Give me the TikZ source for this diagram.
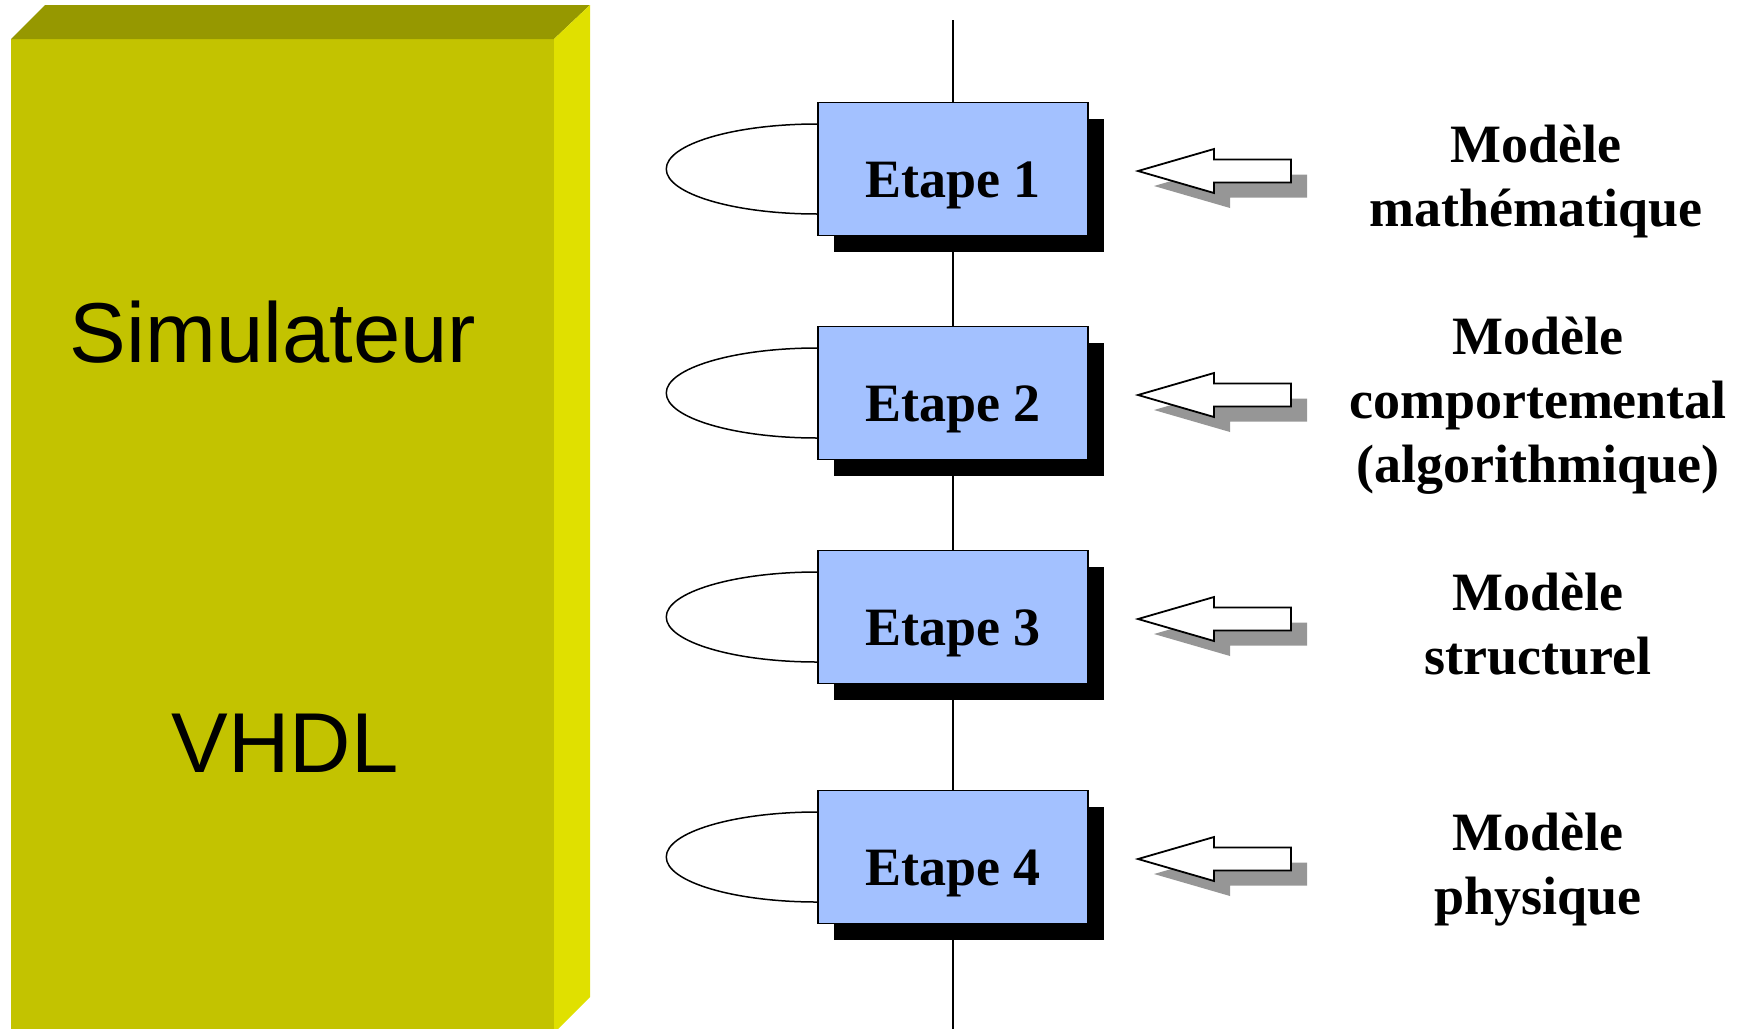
\documentclass[tikz,border=0pt]{standalone}
\usepackage{fontspec}
\setmainfont{Liberation Serif}
\newfontfamily\arialfont{Liberation Sans}
\usetikzlibrary{shadows}

\definecolor{facefront}{RGB}{195,195,0}
\definecolor{facetop}{RGB}{150,152,0}
\definecolor{faceside}{RGB}{224,224,0}
\definecolor{stepblue}{RGB}{163,193,255}
\definecolor{arrowgray}{RGB}{150,150,150}

\tikzset{
  stepbox/.style={draw=black, line width=0.75pt, fill=stepblue,
    minimum width=135pt, minimum height=66.5pt, inner sep=0pt,
    text height=28pt, text depth=0pt,
    font=\fontsize{27}{32}\selectfont\bfseries,
    drop shadow={shadow xshift=8pt, shadow yshift=-8pt, fill=black, opacity=1}},
  modellabel/.style={align=center, inner sep=0pt,
    font=\fontsize{27}{32}\selectfont\bfseries},
  bigsans/.style={font=\arialfont\fontsize{42.5}{50}\selectfont, anchor=base, inner sep=0pt},
  stepline/.style={line width=1pt},
  loopline/.style={line width=0.75pt},
  blockarrow/.pic={
    \fill[arrowgray, xshift=8pt, yshift=-7.5pt]
      (0,0) -- (76,-22) -- (76,-11.5) -- (153,-11.5) -- (153,11.5)
      -- (76,11.5) -- (76,22) -- cycle;
    \draw[fill=white, line width=0.9pt, line join=miter]
      (0,0) -- (76,-22) -- (76,-11.5) -- (153,-11.5) -- (153,11.5)
      -- (76,11.5) -- (76,22) -- cycle;
  }
}

\begin{document}
\begin{tikzpicture}[x=0.5pt, y=-0.5pt]
\useasboundingbox (0,0) rectangle (1738,1028);

% the simulator block, seen in perspective
\begin{scope}
  \clip (0,0) rectangle (1738,1028);
  \fill[facefront] (11,39) rectangle (554,1040);
  \fill[facetop] (11,39) -- (45,5) -- (590,5) -- (554,39) -- cycle;
  \fill[faceside] (554,39) -- (590,5) -- (590,997) -- (554,1033) -- cycle;
\end{scope}
\node[bigsans] (sim) at (273,362) {Simulateur};
\node[bigsans] (vhdl) at (285,772) {VHDL};

% design steps
\node[stepbox] (s1) at (953,169) {Etape 1};
\node[stepbox] (s2) at (953,393) {Etape 2};
\node[stepbox] (s3) at (953,617) {Etape 3};
\node[stepbox] (s4) at (953,857) {Etape 4};

% flow line through the steps
\coordinate (flowtop) at (953,20);
\coordinate (flowbot) at (953,1030);
\draw[stepline] (flowtop) -- (s1.north);
\draw[stepline] (s1.south) -- (s2.north);
\draw[stepline] (s2.south) -- (s3.north);
\draw[stepline] (s3.south) -- (s4.north);
\draw[stepline] (s4.south) -- (flowbot);

% iteration loops on the left of each step
\foreach \s in {s1,s2,s3,s4}{
  \draw[loopline]
    ([yshift=22.5pt]\s.west)
      .. controls +(-41.7pt,0) and +(0,12.4pt) ..
    ([xshift=-75.5pt]\s.west)
      .. controls +(0,-12.4pt) and +(-41.7pt,0) ..
    ([yshift=-22.5pt]\s.west);
}

% model arrows
\foreach \s in {s1,s2,s3,s4}{
  \path ([xshift=92.5pt, yshift=-1pt]\s.center) pic {blockarrow};
}

% model names
\node[modellabel] (m1) at (1536,181.5) {Modèle\\mathématique};
\node[modellabel] (m2) at (1538,405.5) {Modèle\\comportemental\\(algorithmique)};
\node[modellabel] (m3) at (1538,624) {Modèle\\structurel};
\node[modellabel] (m4) at (1538,869.5) {Modèle\\physique};
\end{tikzpicture}
\end{document}
